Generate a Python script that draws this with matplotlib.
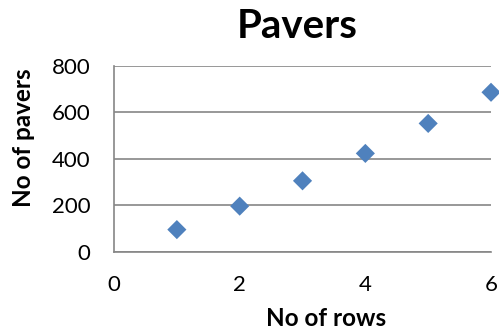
import matplotlib
matplotlib.use("Agg")
import matplotlib.pyplot as plt

rows = [1, 2, 3, 4, 5, 6]
pavers = [95, 196, 305, 423, 552, 686]

plt.rcParams["font.family"] = ["Lato", "DejaVu Sans"]

fig = plt.figure(figsize=(4.99, 3.29), dpi=100)
ax = fig.add_axes([0.2285, 0.235, 0.7555, 0.565])

ax.scatter(rows, pavers, marker="D", s=95, color="#4F81BD", edgecolors="none",
           zorder=3, clip_on=False)

ax.set_xlim(0, 6)
ax.set_ylim(0, 800)
ax.set_xticks([0, 2, 4, 6])
ax.set_yticks([0, 200, 400, 600, 800])
ax.grid(True, axis="y", color="#868686", linewidth=1.2)
ax.set_axisbelow(True)
for side in ("top", "right"):
    ax.spines[side].set_visible(False)
for side in ("left", "bottom"):
    ax.spines[side].set_color("#868686")
    ax.spines[side].set_linewidth(1.2)
ax.tick_params(length=0, labelsize=16)
ax.tick_params(axis="x", pad=17)
ax.tick_params(axis="y", pad=17)

ax.set_xlabel("No of rows", fontsize=17.5, fontweight="bold", va="center")
ax.xaxis.set_label_coords(0.5615, -0.359)
ax.set_ylabel("No of pavers", fontsize=17.5, fontweight="bold", va="center")
ax.yaxis.set_label_coords(-0.239, 0.611)
fig.text(297 / 499, 1 - 27 / 329, "Pavers", ha="center", va="center",
         fontsize=29, fontweight="bold")

fig.savefig("out.png", dpi=100, facecolor="white")
